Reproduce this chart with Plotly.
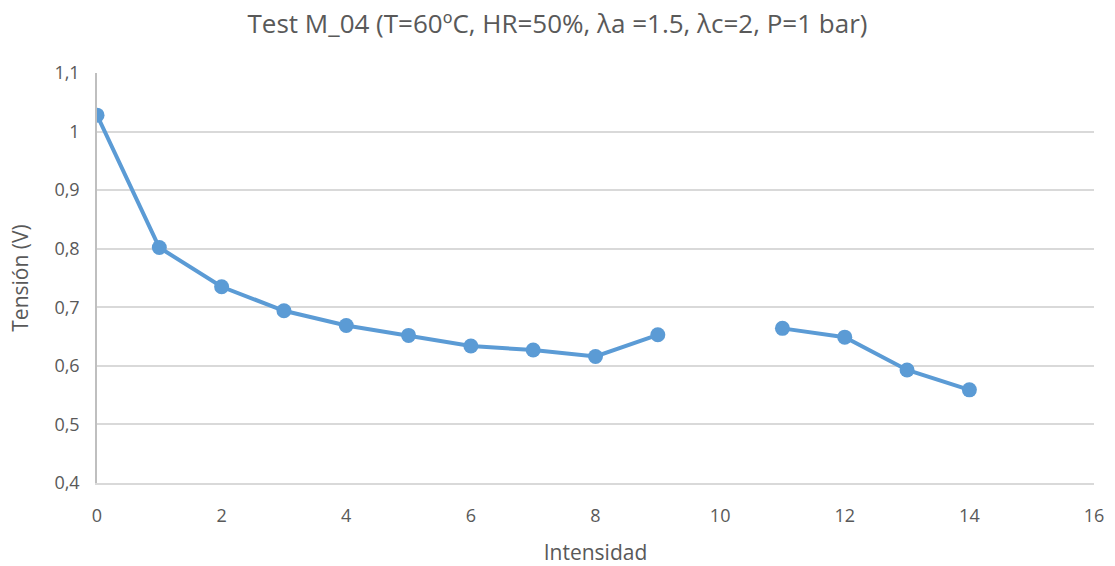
import plotly.graph_objects as go

# Polarisation curve data: current (Intensidad) vs cell voltage (Tensión)
intensidad = [0, 1, 2, 3, 4, 5, 6, 7, 8, 9, 10, 11, 12, 13, 14]
tension = [1.028, 0.802, 0.735, 0.694, 0.669, 0.652, 0.634, 0.627, 0.616, 0.653,
           None, 0.664, 0.649, 0.593, 0.559]

x_ticks = list(range(0, 17, 2))
y_ticks = [0.4, 0.5, 0.6, 0.7, 0.8, 0.9, 1.0, 1.1]

line_color = "#5B9BD5"
text_color = "#595959"
grid_color = "#D9D9D9"
font_family = "Open Sans, Noto Sans, sans-serif"

fig = go.Figure()
fig.add_trace(go.Scatter(
    x=intensidad,
    y=tension,
    mode="lines+markers",
    connectgaps=False,
    line=dict(color=line_color, width=4),
    marker=dict(color=line_color, size=15),
    showlegend=False,
))

fig.update_layout(
    width=1115,
    height=566,
    paper_bgcolor="white",
    plot_bgcolor="white",
    separators=",.",
    margin=dict(l=97, r=21, t=73, b=83),
    font=dict(family=font_family, color=text_color, size=18),
    title=dict(
        text="Test M_04 (T=60ºC, HR=50%, λa =1.5, λc=2, P=1 bar)",
        x=0.5, xanchor="center",
        y=0.958, yanchor="middle",
        font=dict(size=26, color=text_color, family=font_family),
    ),
    xaxis=dict(
        range=[0, 16],
        tickvals=x_ticks,
        showgrid=False,
        zeroline=False,
        showline=True,
        linecolor=grid_color,
        linewidth=1.5,
        ticks="",
        automargin=False,
        ticklabelstandoff=16,
        tickfont=dict(size=18, color=text_color),
        title=dict(text="Intensidad", font=dict(size=21, color=text_color), standoff=20),
    ),
    yaxis=dict(
        range=[0.4, 1.1],
        tickvals=y_ticks,
        showgrid=True,
        gridcolor=grid_color,
        gridwidth=1.5,
        zeroline=False,
        showline=True,
        linecolor="#BFBFBF",
        linewidth=1.5,
        ticks="",
        automargin=False,
        ticklabelstandoff=12,
        tickfont=dict(size=18, color=text_color),
        title=dict(text="Tensión (V)", font=dict(size=21, color=text_color), standoff=20),
    ),
)

fig.write_html("out.html")
